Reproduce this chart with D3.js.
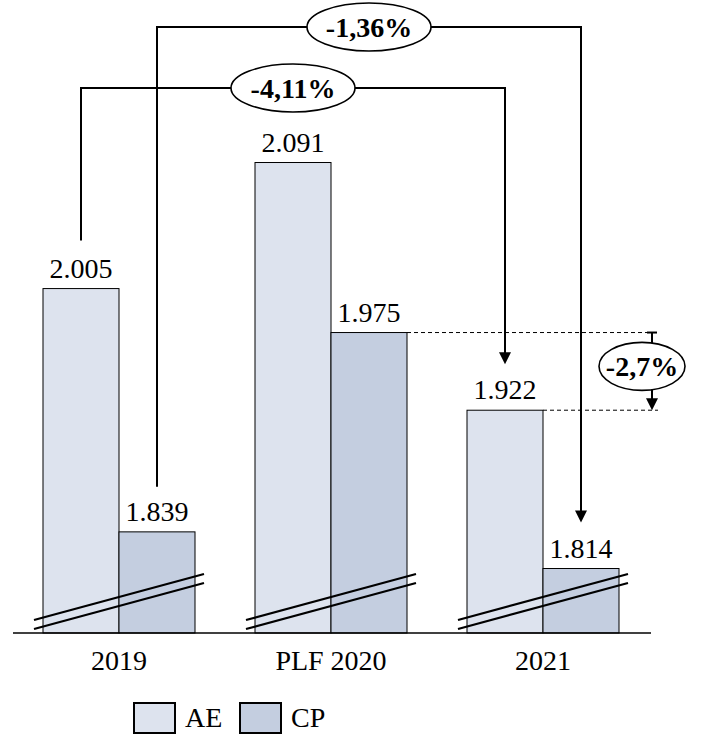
<!DOCTYPE html>
<html>
<head>
<meta charset="utf-8">
<script src="https://cdn.jsdelivr.net/npm/d3@7"></script>
<style>
  html, body { margin: 0; padding: 0; background: #fff; }
  svg { display: block; }
  text { font-family: "Liberation Serif", "Times New Roman", serif; fill: #000; }
</style>
</head>
<body>
<svg id="chart" width="705" height="755"></svg>
<script>
// ---- Data ----
const categories = ["2019", "PLF 2020", "2021"];
const series = ["AE", "CP"];
const aeValues = [2005, 2091, 1922];
const cpValues = [1839, 1975, 1814];
const valueLabels = {
  AE: ["2.005", "2.091", "1.922"],
  CP: ["1.839", "1.975", "1.814"]
};
const colors = { AE: "#dde3ee", CP: "#c4cee0" };
const changeLabels = { ae19to21: "-4,11%", cp19to21: "-1,36%", cp20toAe21: "-2,7%" };

// ---- Setup ----
const svg = d3.select("#chart");
const W = 705, H = 755;
const baseY = 633;
const FONT = 28;

const x = d3.scaleBand().domain(categories).range([13, 649]).paddingInner(60 / 212).paddingOuter(30 / 212);
const xs = d3.scaleBand().domain(series).range([0, x.bandwidth()]);
const y = d3.scaleLinear().domain([1770, 2200]).range([baseY, baseY - 430 * 1.4657]);

const data = categories.map((c, i) => ({ cat: c, AE: aeValues[i], CP: cpValues[i], i }));
const barCenter = (cat, s) => x(cat) + xs(s) + xs.bandwidth() / 2;

// ---- Bars ----
const g = svg.append("g");
data.forEach(d => {
  series.forEach(s => {
    g.append("rect")
      .attr("x", x(d.cat) + xs(s))
      .attr("y", y(d[s]))
      .attr("width", xs.bandwidth())
      .attr("height", baseY - y(d[s]))
      .attr("fill", colors[s])
      .attr("stroke", "#000")
      .attr("stroke-width", 1);
    g.append("text")
      .attr("x", barCenter(d.cat, s))
      .attr("y", y(d[s]) - 11)
      .attr("text-anchor", "middle")
      .attr("font-size", FONT)
      .text(valueLabels[s][d.i]);
  });
  // axis break marks
  const cx = x(d.cat) + x.bandwidth() / 2;
  [0, 9].forEach(off => {
    g.append("line")
      .attr("x1", cx - 85).attr("y1", baseY - 13 + off)
      .attr("x2", cx + 85).attr("y2", baseY - 59 + off)
      .attr("stroke", "#000").attr("stroke-width", 2.2);
  });
});

// ---- Axis ----
svg.append("line")
  .attr("x1", 13).attr("x2", 651)
  .attr("y1", baseY).attr("y2", baseY)
  .attr("stroke", "#000").attr("stroke-width", 1.3);

categories.forEach(c => {
  svg.append("text")
    .attr("x", x(c) + x.bandwidth() / 2)
    .attr("y", 670)
    .attr("text-anchor", "middle")
    .attr("font-size", FONT)
    .text(c);
});

// ---- Annotations ----
const ann = svg.append("g");
function arrowHead(px, py) {
  ann.append("path")
    .attr("d", `M${px - 6},${py - 12} L${px + 6},${py - 12} L${px},${py} Z`)
    .attr("fill", "#000");
}
function bracket(x1, yStart, x2, yEnd, yTop, label) {
  ann.append("path")
    .attr("d", `M${x1},${yStart} L${x1},${yTop} L${x2},${yTop} L${x2},${yEnd - 10}`)
    .attr("fill", "none").attr("stroke", "#000").attr("stroke-width", 2);
  arrowHead(x2, yEnd);
  const mx = (x1 + x2) / 2;
  ann.append("ellipse")
    .attr("cx", mx).attr("cy", yTop)
    .attr("rx", 62).attr("ry", 24)
    .attr("fill", "#fff").attr("stroke", "#000").attr("stroke-width", 1.6);
  ann.append("text")
    .attr("x", mx).attr("y", yTop + 10)
    .attr("text-anchor", "middle")
    .attr("font-size", FONT).attr("font-weight", "bold")
    .text(label);
}

// -1,36% : CP 2019 -> CP 2021
bracket(barCenter("2019", "CP"), y(cpValues[0]) - 45,
        barCenter("2021", "CP"), y(cpValues[2]) - 46, 27, changeLabels.cp19to21);
// -4,11% : AE 2019 -> AE 2021
bracket(barCenter("2019", "AE"), y(aeValues[0]) - 48,
        barCenter("2021", "AE"), y(aeValues[2]) - 46, 88, changeLabels.ae19to21);

// -2,7% : CP 2020 vs AE 2021 (dashed guides)
const yTopD = y(cpValues[1]);
const yBotD = y(aeValues[2]);
ann.append("line")
  .attr("x1", x("PLF 2020") + x.bandwidth()).attr("x2", 658)
  .attr("y1", yTopD).attr("y2", yTopD)
  .attr("stroke", "#000").attr("stroke-width", 1).attr("stroke-dasharray", "4,3");
ann.append("line")
  .attr("x1", x("2021") + xs("AE") + xs.bandwidth()).attr("x2", 658)
  .attr("y1", yBotD).attr("y2", yBotD)
  .attr("stroke", "#000").attr("stroke-width", 1).attr("stroke-dasharray", "4,3");
const ax = 652;
const ecy = (yTopD + yBotD) / 2 - 5;
ann.append("line")
  .attr("x1", ax - 5).attr("x2", ax + 5)
  .attr("y1", yTopD).attr("y2", yTopD)
  .attr("stroke", "#000").attr("stroke-width", 2);
ann.append("line")
  .attr("x1", ax).attr("x2", ax)
  .attr("y1", yTopD).attr("y2", yBotD - 10)
  .attr("stroke", "#000").attr("stroke-width", 2);
arrowHead(ax, yBotD);
ann.append("ellipse")
  .attr("cx", 642).attr("cy", ecy)
  .attr("rx", 43).attr("ry", 24)
  .attr("fill", "#fff").attr("stroke", "#000").attr("stroke-width", 1.6);
ann.append("text")
  .attr("x", 642).attr("y", ecy + 10)
  .attr("text-anchor", "middle")
  .attr("font-size", FONT).attr("font-weight", "bold")
  .text(changeLabels.cp20toAe21);

// ---- Legend ----
const legend = svg.append("g");
const legendPos = [{ s: "AE", bx: 134 }, { s: "CP", bx: 240 }];
legendPos.forEach(p => {
  legend.append("rect")
    .attr("x", p.bx).attr("y", 703)
    .attr("width", 41).attr("height", 30)
    .attr("fill", colors[p.s])
    .attr("stroke", "#000").attr("stroke-width", 2);
  legend.append("text")
    .attr("x", p.bx + 51).attr("y", 727)
    .attr("font-size", FONT)
    .text(p.s);
});
</script>
</body>
</html>
